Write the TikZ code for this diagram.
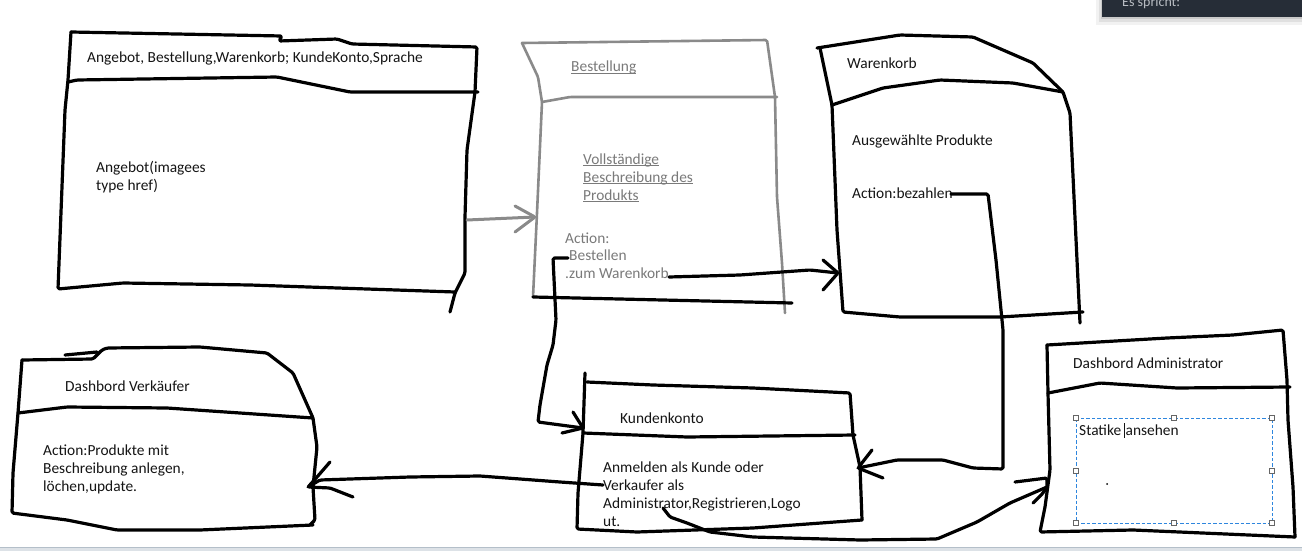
\documentclass[tikz,border=0pt]{standalone}
\usepackage{fontspec}
\setmainfont{Carlito}
\newcommand\lblfont{\fontsize{15.4}{18}\selectfont}
\newcommand\myul[1]{\setbox0\hbox{#1}\rlap{\rule[-2.3pt]{\wd0}{1pt}}\box0}
\definecolor{ink}{HTML}{151515}
\definecolor{pgray}{HTML}{8A8A8A}
\definecolor{tgray}{HTML}{7A7A7A}
\definecolor{selblue}{HTML}{2E86DE}
\definecolor{barcol}{HTML}{262D37}
\definecolor{bartext}{HTML}{B8BCC2}
\definecolor{edgecol}{HTML}{B4BFC9}
\begin{document}
\begin{tikzpicture}[x=1pt,y=-1pt,
  sketch/.style={line width=3.2pt,line join=round,line cap=round,draw=black,rounded corners=1.5pt},
  graysketch/.style={line width=2.6pt,line join=round,line cap=round,draw=pgray,rounded corners=1.5pt},
  lbl/.style={anchor=base west,inner sep=0pt,font=\lblfont,text=ink},
  glbl/.style={anchor=base west,inner sep=0pt,font=\lblfont,text=tgray},
  handle/.style={draw=black!60,fill=white,line width=0.8pt,minimum size=4.5pt,inner sep=0pt}]
\useasboundingbox (0,0) rectangle (1302,551);
\fill[white] (0,0) rectangle (1302,551);

% top-right dark bar with shadow
\fill[black,opacity=0.05] (1096,-6) rectangle (1302,25);
\fill[black,opacity=0.07] (1099,-6) rectangle (1302,22);
\fill[black,opacity=0.10] (1101,-6) rectangle (1302,19);
\fill[barcol] (1102,-6) rectangle (1302,17);
\node[anchor=base west,inner sep=0pt,font=\fontsize{14}{16}\selectfont,text=bartext] (bar) at (1122,6.5) {Es spricht:};

% bottom window edge
\fill[edgecol!45] (0,547) rectangle (1302,551);
\draw[edgecol,line width=1.2pt] (0,547.6) -- (1302,547.6);

% ---------- Box 1: Angebot ----------
\draw[sketch] (71,32) -- (282,36) -- (279,41) -- (337,39) -- (352,44) -- (477,47)
  -- (475,92) -- (467,150) -- (465,217) -- (465,273) -- (455,293) -- (450,312);
\draw[sketch] (71,32) -- (68,80) -- (65,110) -- (58,289) -- (123,283) -- (250,285) -- (455,292);
\draw[sketch] (68,82) -- (77,80) -- (277,77) -- (350,92) -- (478,92);
\node[lbl] (t1) at (87,63) {Angebot, Bestellung,Warenkorb; KundeKonto,Sprache};
\node[lbl] (t2) at (96,172) {Angebot(imagees};
\node[lbl] (t3) at (96,190) {type href)};
\coordinate (a1out) at (467,220);

% ---------- Box 2: Bestellung (gray) ----------
\draw[graysketch] (522,43) -- (767,40) -- (775,97) -- (777,197) -- (782,263) -- (785,313);
\draw[graysketch] (522,43) -- (538,77) -- (542,102) -- (537,213) -- (533,297);
\draw[graysketch] (542,102) -- (570,97) -- (777,97);
\draw[sketch] (533,297) -- (792,303);
\node[glbl] (b1) at (571,72) {\myul{Bestellung}};
\node[glbl] (b2) at (583,164) {\myul{Vollständige}};
\node[glbl] (b3) at (583,182) {\myul{Beschreibung des}};
\node[glbl] (b4) at (583,200) {\myul{Produkts}};
\node[glbl] (b5) at (565,243) {Action:};
\node[glbl] (b6) at (569,260) {Bestellen};
\node[glbl] (b7) at (565,278) {.zum Warenkorb};
\coordinate (b2in) at (535,217);
\coordinate (bestout) at (568,258);
\coordinate (zumout) at (669,277);

% gray arrow Angebot -> Bestellung
\draw[graysketch,line width=3pt] (a1out) -- (b2in);
\draw[graysketch,line width=3pt] (515,206) -- (b2in) -- (515,232);

% ---------- Box 3: Warenkorb ----------
\draw[sketch] (817,48) -- (900,35) -- (973,37) -- (1033,63) -- (1063,92) -- (1070,113) -- (1080,323);
\draw[sketch] (820,48) -- (832,105) -- (837,230) -- (843,312) -- (900,317) -- (1000,317) -- (1083,312);
\draw[sketch] (832,105) -- (883,88) -- (940,80) -- (1013,83) -- (1063,92);
\node[lbl] (w1) at (847,69) {Warenkorb};
\node[lbl] (w2) at (852,145) {Ausgewählte Produkte};
\node[lbl] (w3) at (852,198) {Action:bezahlen};
\coordinate (wkin) at (838,273);
\coordinate (bezout) at (951,194);

% connector zum Warenkorb -> Warenkorb
\draw[sketch] (zumout) -- (740,275) -- (810,270) -- (wkin);
\draw[sketch] (823,260) -- (wkin) -- (823,290);

% ---------- Box 4: Dashbord Verkaeufer ----------
\draw[sketch] (22,360) -- (93,359) -- (102,350) -- (107,348) -- (200,347) -- (267,353) -- (293,373) -- (313,418)
  -- (317,447) -- (313,487) -- (315,520) -- (310,525);
\draw[sketch] (65,355) -- (97,352);
\draw[sketch] (22,360) -- (18,413) -- (13,473) -- (12,513) -- (67,520) -- (117,530) -- (200,530) -- (313,525);
\draw[sketch] (18,413) -- (67,407) -- (167,408) -- (313,418);
\node[lbl] (v1) at (65,391) {Dashbord Verkäufer};
\node[lbl] (v2) at (43,455) {Action:Produkte mit};
\node[lbl] (v3) at (43,473) {Beschreibung anlegen,};
\node[lbl] (v4) at (43,491) {löchen,update.};
\coordinate (vin) at (308,487);

% ---------- Box 5: Kundenkonto ----------
\draw[sketch] (587,382) -- (653,385) -- (753,388) -- (850,393) -- (853,435) -- (860,467) -- (862,520);
\draw[sketch] (585,373) -- (583,433) -- (578,493) -- (577,529) -- (637,532) -- (753,528) -- (862,520);
\draw[sketch] (583,433) -- (687,437) -- (855,435);
\node[lbl] (k1) at (620,423) {Kundenkonto};
\node[lbl] (k2) at (603,472) {Anmelden als Kunde oder};
\node[lbl] (k3) at (603,490) {Verkaufer als};
\node[lbl] (k4) at (603,508) {Administrator,Registrieren,Logo};
\node[lbl] (k5) at (603,526) {ut.};
\coordinate (kin) at (583,428);
\coordinate (kright) at (858,468);
\coordinate (kvout) at (603,485);
\coordinate (kaout) at (663,508);

% connector Bestellen -> Kundenkonto
\draw[sketch] (bestout) -- (553,258) -- (556,320) -- (553,345) -- (547,365) -- (540,405) -- (538,422) -- (kin);
\draw[sketch] (573,412) -- (kin) -- (562,433);

% connector bezahlen -> Kundenkonto
\draw[sketch] (bezout) -- (988,194) -- (996,260) -- (1003,330) -- (1003,469) -- (973,468) -- (943,460) -- (897,460) -- (kright);
\draw[sketch] (872,450) -- (kright) -- (883,478);

% connector Kundenkonto -> Verkaeufer
\draw[sketch] (kvout) -- (560,482) -- (480,476) -- (410,477) -- (320,480) -- (vin);
\draw[sketch] (330,462) -- (317,477) -- (vin) -- (330,488) -- (353,497);

% ---------- Box 6: Dashbord Administrator ----------
\draw[sketch] (1047,345) -- (1167,338) -- (1233,335) -- (1283,330) -- (1287,380) -- (1288,420) -- (1293,487) -- (1295,537);
\draw[sketch] (1047,345) -- (1048,393) -- (1050,470) -- (1045,507) -- (1040,532) -- (1133,530) -- (1295,537);
\draw[sketch] (1048,393) -- (1100,383) -- (1177,388) -- (1290,387);
\node[lbl] (d1) at (1073,368) {Dashbord Administrator};
\coordinate (ain) at (1047,487);

% selection frame
\draw[selblue,line width=1pt,dash pattern=on 3.5pt off 2pt] (1076,418) rectangle (1272,523);
\foreach \p/\n in {{(1076,418)}/h1,{(1174,418)}/h2,{(1272,418)}/h3,{(1076,471)}/h4,{(1272,471)}/h5,{(1076,523)}/h6,{(1174,523)}/h7,{(1272,523)}/h8}
  \node[handle] (\n) at \p {};
\node[lbl] (d2) at (1079,435) {Statike\kern2.5pt\rule[-2.5pt]{1.2pt}{15pt}\kern0.8pt ansehen};
\fill[black] (1107,484) circle (1pt);

% connector Kundenkonto -> Administrator
\draw[sketch] (kaout) -- (670,517) -- (687,523) -- (710,532) -- (753,537) -- (860,540) -- (937,539) -- (977,522) -- (1010,503) -- (ain);
\draw[sketch] (1015,482) -- (1047,478) -- (ain);
\draw[sketch] (1033,503) -- (1043,493) -- (ain);
\end{tikzpicture}
\end{document}
